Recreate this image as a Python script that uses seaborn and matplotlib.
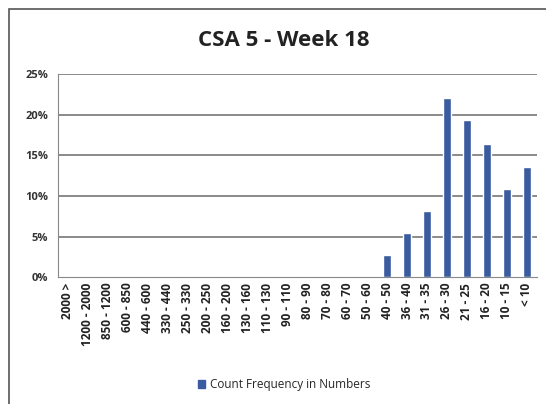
import matplotlib
matplotlib.use("Agg")
import matplotlib.pyplot as plt
import seaborn as sns
import pandas as pd
from matplotlib.patches import Rectangle, Patch

categories = ["2000 >", "1200 - 2000", "850 - 1200", "600 - 850", "440 - 600",
              "330 - 440", "250 - 330", "200 - 250", "160 - 200", "130 - 160",
              "110 - 130", "90 - 110", "80 - 90", "70 - 80", "60 - 70", "50 - 60",
              "40 - 50", "36 - 40", "31 - 35", "26 - 30", "21 - 25", "16 - 20",
              "10 - 15", "< 10"]
values = [0, 0, 0, 0, 0, 0, 0, 0, 0, 0, 0, 0, 0, 0, 0, 0,
          2.7, 5.4, 8.1, 22.0, 19.3, 16.4, 10.9, 13.6]
yticks = [0, 5, 10, 15, 20, 25]
ytick_labels = ["0%", "5%", "10%", "15%", "20%", "25%"]

df = pd.DataFrame({"cat": categories, "val": values})

sns.set_style("white")
plt.rcParams["font.family"] = ["Open Sans", "DejaVu Sans"]

fig = plt.figure(figsize=(5.46, 4.04), dpi=100)
ax = fig.add_axes([0.106, 0.314, 0.877, 0.503])
sns.barplot(data=df, x="cat", y="val", color="#3a5ba0", width=0.38,
            saturation=1, ax=ax, zorder=3)
ax.set_ylim(0, 25)
ax.set_xlim(-0.5, len(categories) - 0.5)
ax.set_yticks(yticks)
ax.set_yticklabels(ytick_labels, fontsize=8, fontweight="bold", color="#333333")
ax.set_xticks(range(len(categories)))
ax.set_xticklabels(categories, rotation=90, fontsize=8.5, fontweight="bold", color="#222222")
ax.set_xlabel("")
ax.set_ylabel("")
for y in yticks[1:]:
    ax.axhline(y, color="#777777", lw=1.2, zorder=1)
for s in ["top", "right"]:
    ax.spines[s].set_visible(False)
ax.spines["left"].set_color("#888888")
ax.spines["bottom"].set_color("#888888")
ax.tick_params(axis="x", length=0, pad=4)
ax.tick_params(axis="y", length=0, pad=7)

fig.text(0.52, 0.9, "CSA 5 - Week 18", ha="center", va="center",
         fontsize=16, fontweight="bold", color="#222222")

leg = fig.legend(handles=[Patch(color="#3a5ba0", label="Count Frequency in Numbers")],
                 loc="center", bbox_to_anchor=(0.52, 0.048), frameon=False,
                 fontsize=8.5, handlelength=0.6, handleheight=0.6, handletextpad=0.4)

fig.patches.append(Rectangle((0.016, -0.01), 1.0, 0.988, transform=fig.transFigure,
                             fill=False, edgecolor="#555555", lw=1.2))

fig.savefig("out.png", dpi=100)
